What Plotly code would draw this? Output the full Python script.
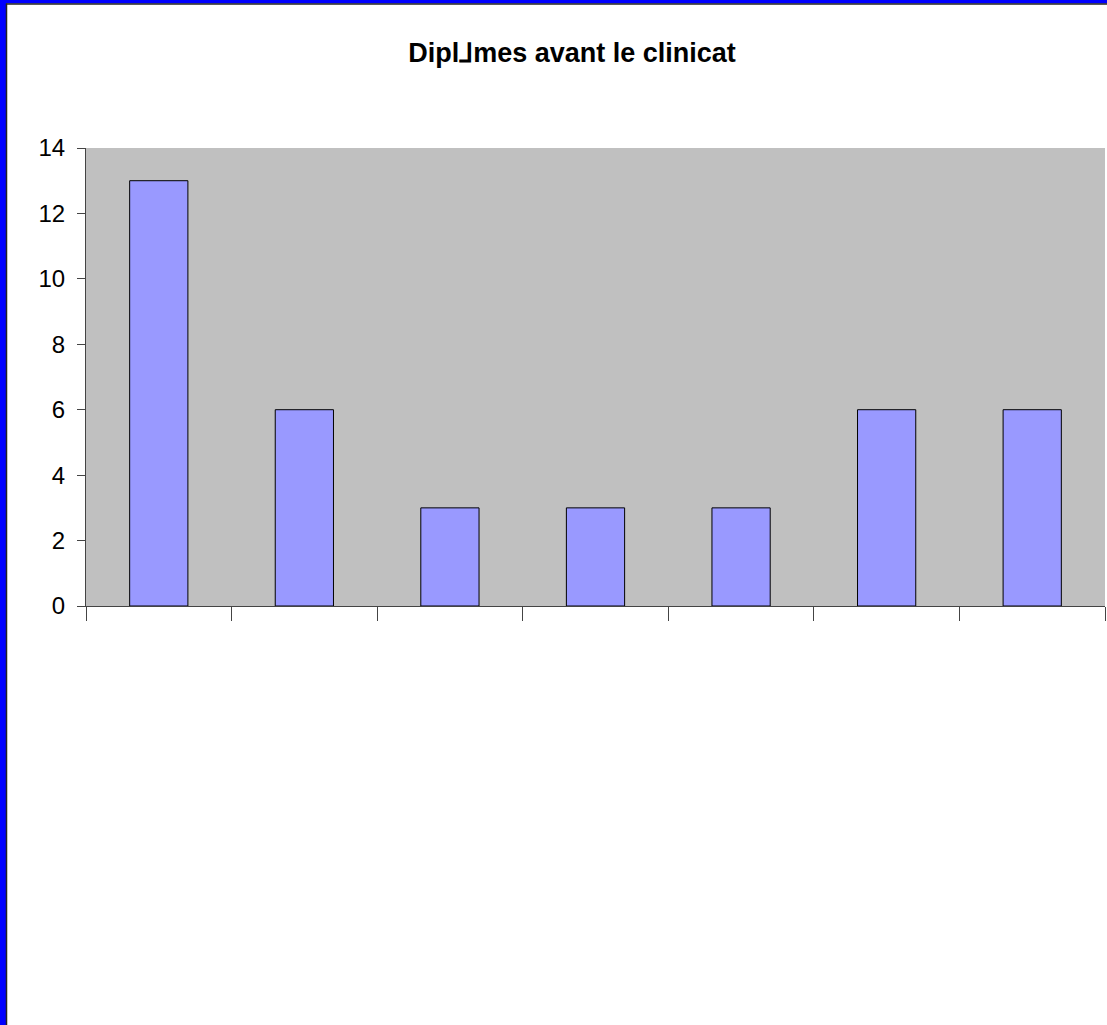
import plotly.graph_objects as go

categories = ["1", "2", "3", "4", "5", "6", "7"]
values = [13, 6, 3, 3, 3, 6, 6]
y_ticks = [0, 2, 4, 6, 8, 10, 12, 14]
title_text = "Dipl⅃mes avant le clinicat"

W, H = 1107, 1025
ML, MR, MT, MB = 86, 2, 148, 419
PW, PH = W - ML - MR, H - MT - MB

def px_x(p):
    return (p - ML) / PW

def px_y(p):
    return 1 - (p - MT) / PH

fig = go.Figure(go.Bar(
    x=categories, y=values, width=0.4,
    marker=dict(color="#9999FF", line=dict(color="#000000", width=1)),
))

shapes = [
    # blue frame (left and top)
    dict(type="rect", xref="paper", yref="paper", x0=px_x(0), x1=px_x(6), y0=px_y(H), y1=px_y(0),
         fillcolor="#0000FF", line=dict(width=0), layer="above"),
    dict(type="rect", xref="paper", yref="paper", x0=px_x(0), x1=px_x(W), y0=px_y(3.5), y1=px_y(0),
         fillcolor="#0000FF", line=dict(width=0), layer="above"),
    dict(type="line", xref="paper", yref="paper", x0=px_x(6.5), x1=px_x(6.5), y0=px_y(H), y1=px_y(3.5),
         line=dict(color="#222222", width=1.5), layer="above"),
    dict(type="line", xref="paper", yref="paper", x0=px_x(6), x1=px_x(W), y0=px_y(4), y1=px_y(4),
         line=dict(color="#222222", width=1.5), layer="above"),
]

fig.update_layout(
    width=W, height=H,
    margin=dict(l=ML, r=MR, t=MT, b=MB, pad=0),
    paper_bgcolor="white", plot_bgcolor="#C0C0C0",
    showlegend=False,
    font=dict(family="Liberation Sans, Arial, sans-serif", color="black"),
    title=dict(text="<b>" + title_text + "</b>", font=dict(size=27, family="Liberation Sans, Arial, sans-serif"),
               xref="container", x=572 / W, xanchor="center",
               yref="container", y=1 - 53 / H, yanchor="middle"),
    shapes=shapes,
    bargap=0.6,
)
fig.update_xaxes(type="category", range=[-0.5, 6.5], tickson="boundaries",
                 ticks="outside", ticklen=14, tickcolor="#444444", tickwidth=1,
                 showticklabels=False, showgrid=False, zeroline=False,
                 showline=True, linecolor="#444444", linewidth=1)
fig.update_yaxes(range=[0, 14], tickvals=y_ticks, ticks="outside", ticklen=8,
                 tickcolor="#444444", tickwidth=1, showgrid=False, zeroline=False,
                 showline=True, linecolor="#444444", linewidth=1,
                 tickfont=dict(size=24), ticklabelstandoff=7)

fig.write_html("out.html", config={"displayModeBar": False},
               post_script="document.body.style.margin='0';document.body.style.overflow='hidden';")
